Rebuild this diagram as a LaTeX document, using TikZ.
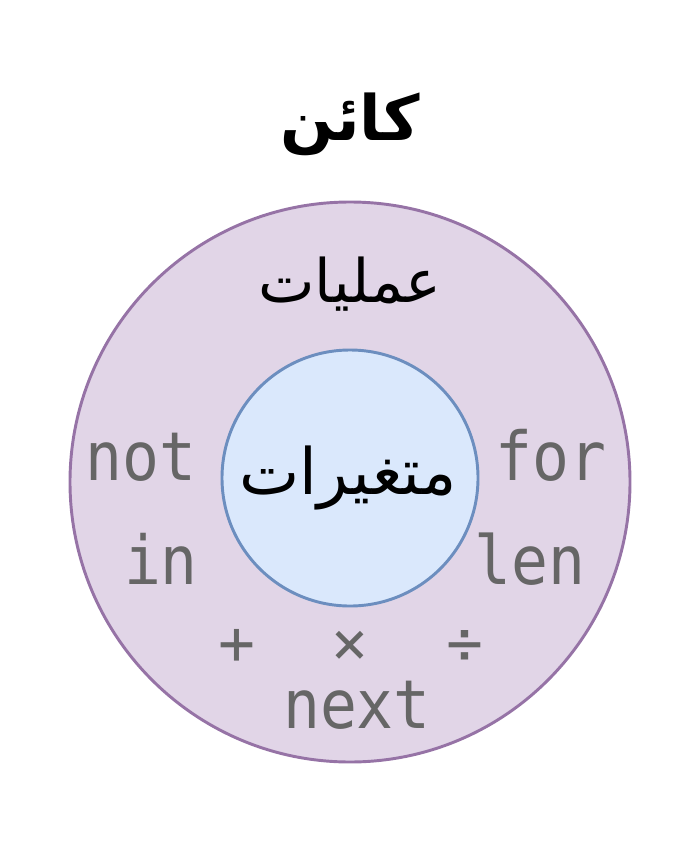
\documentclass[tikz,border=0pt]{standalone}
\usepackage{fontspec}
\TeXXeTstate=1
\newfontfamily\arabicfont[Script=Arabic]{DejaVu Sans}
\newfontfamily\monofont{DejaVu Sans Mono}
\definecolor{outerfill}{HTML}{E1D5E7}
\definecolor{outerdraw}{HTML}{9673A6}
\definecolor{innerfill}{HTML}{DAE8FC}
\definecolor{innerdraw}{HTML}{6C8EBF}
\definecolor{optext}{HTML}{666666}
\tikzset{
  optxt/.style={text=optext, font=\monofont\fontsize{46}{50}\selectfont, anchor=base, inner sep=0pt},
  artxt/.style={font=\arabicfont\fontsize{46}{52}\selectfont, inner sep=0pt},
}
\begin{document}
\begin{tikzpicture}[x=0.75pt,y=-0.75pt]
\useasboundingbox (0,0) rectangle (688,864);
\node[circle, minimum size=420pt, fill=outerfill, draw=outerdraw, line width=2.2pt] (outer) at (350,482) {};
\node[circle, minimum size=192pt, fill=innerfill, draw=innerdraw, line width=2.2pt] (inner) at (350,478) {};
\node[artxt, font=\arabicfont\bfseries\fontsize{47}{52}\selectfont] (title) at (350,124) {\beginR كائن\endR};
\node[artxt, font=\arabicfont\fontsize{45}{50}\selectfont] (ops) at (350,284) {\beginR عمليات\endR};
\node[artxt, font=\arabicfont\fontsize{48}{54}\selectfont] (vars) at (348,478) {\beginR متغيرات\endR};
\node[optxt] (not) at (141,480) {\scalebox{1}[1.1]{not}};
\node[optxt] (for) at (551,480) {\scalebox{1}[1.1]{for}};
\node[optxt] (in) at (161,584) {\scalebox{1}[1.1]{in}};
\node[optxt] (len) at (530,584) {\scalebox{1}[1.1]{len}};
\node[optxt] (plus) at (237,664) {+};
\node[optxt] (times) at (350,664) {×};
\node[optxt] (div) at (465,664) {÷};
\node[optxt] (next) at (357,728) {\scalebox{1}[1.1]{next}};
\end{tikzpicture}
\end{document}
